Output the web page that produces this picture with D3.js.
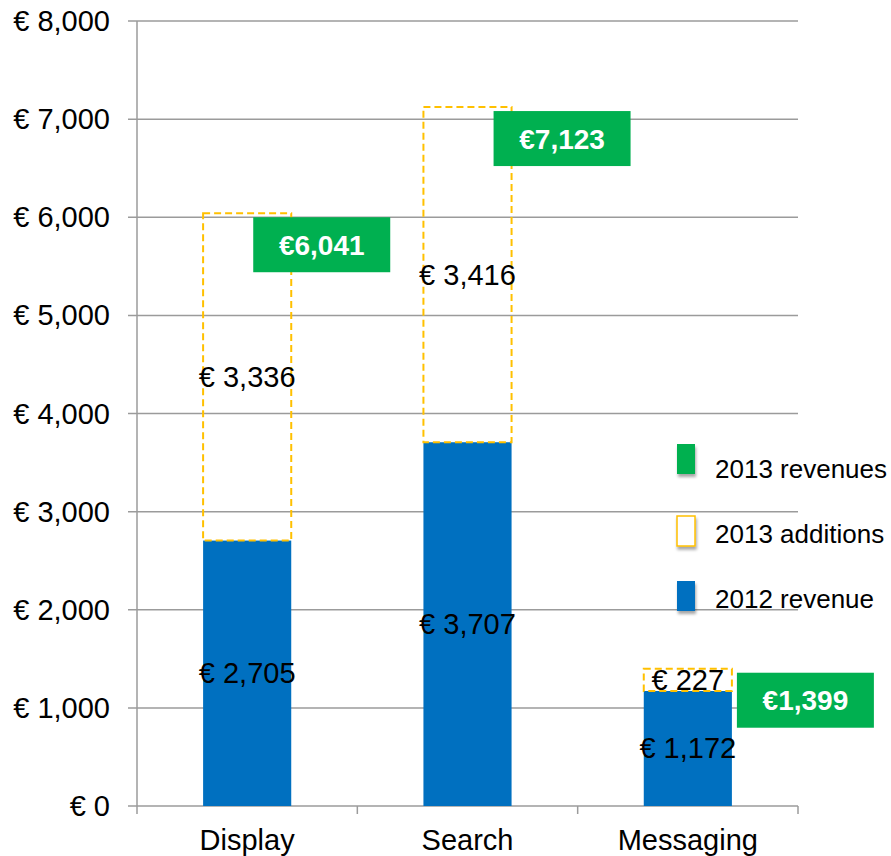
<!DOCTYPE html>
<html>
<head>
<meta charset="utf-8">
<title>Revenue 2012 / 2013</title>
<script src="https://cdnjs.cloudflare.com/ajax/libs/d3/7.8.5/d3.min.js"></script>
<style>
body { margin: 0; background: #fff; }
text { font-family: "Liberation Sans", Arial, sans-serif; }
</style>
</head>
<body>
<svg id="chart" width="891" height="856"></svg>
<script>
// data
var categories = ["Display", "Search", "Messaging"];
var revenue2012 = [2705, 3707, 1172];
var additions2013 = [3336, 3416, 227];
var revenue2013 = [6041, 7123, 1399];
var yTicks = [0, 1000, 2000, 3000, 4000, 5000, 6000, 7000, 8000];
var legendLabels = ["2013 revenues", "2013 additions", "2012 revenue"];

// hand placed offsets of the green total boxes (relative to bar right edge)
var totalBoxDx = [-38, -18, 5];

var svg = d3.select("#chart");
var plotLeft = 137, plotRight = 798, plotTop = 21, plotBottom = 806;

var x = d3.scaleBand().domain(categories).range([plotLeft, plotRight]).paddingInner(0.6).paddingOuter(0.3);
var y = d3.scaleLinear().domain([0, 8000]).range([plotBottom, plotTop]);
var euro = function(v) { return "€ " + d3.format(",")(v); };

// shadow for legend swatches
var defs = svg.append("defs");
defs.append("filter").attr("id", "shadow")
    .attr("x", "-50%").attr("y", "-50%").attr("width", "200%").attr("height", "200%")
    .append("feDropShadow")
    .attr("dx", 1).attr("dy", 3).attr("stdDeviation", 1.5)
    .attr("flood-color", "#000").attr("flood-opacity", 0.35);

// gridlines + y ticks
svg.append("g").selectAll("line").data(yTicks).enter().append("line")
    .attr("x1", plotLeft - 9).attr("x2", plotRight)
    .attr("y1", function(d) { return y(d); }).attr("y2", function(d) { return y(d); })
    .attr("stroke", "#9b9b9b").attr("stroke-width", 1.5);

svg.append("g").selectAll("text").data(yTicks).enter().append("text")
    .attr("x", 110).attr("y", function(d) { return y(d) + 10; })
    .attr("text-anchor", "end").attr("font-size", 29).attr("fill", "#000")
    .text(euro);

// y axis line
svg.append("line").attr("x1", plotLeft).attr("x2", plotLeft).attr("y1", plotTop).attr("y2", plotBottom + 8)
    .attr("stroke", "#9b9b9b").attr("stroke-width", 1.5);

// x ticks between categories
var xTicks = d3.range(categories.length + 1).map(function(i) { return plotLeft + i * (plotRight - plotLeft) / categories.length; });
svg.append("g").selectAll("line").data(xTicks.slice(1)).enter().append("line")
    .attr("x1", function(d) { return d; }).attr("x2", function(d) { return d; })
    .attr("y1", plotBottom).attr("y2", plotBottom + 8)
    .attr("stroke", "#9b9b9b").attr("stroke-width", 1.5);

// category labels
svg.append("g").selectAll("text").data(categories).enter().append("text")
    .attr("x", function(d) { return x(d) + x.bandwidth() / 2; })
    .attr("y", 850).attr("text-anchor", "middle").attr("font-size", 29)
    .text(function(d) { return d; });

// 2012 revenue bars
svg.append("g").selectAll("rect").data(categories).enter().append("rect")
    .attr("x", function(d) { return x(d); })
    .attr("width", x.bandwidth())
    .attr("y", function(d, i) { return y(revenue2012[i]); })
    .attr("height", function(d, i) { return plotBottom - y(revenue2012[i]); })
    .attr("fill", "#0070c0");

// 2013 additions (dashed outline)
svg.append("g").selectAll("rect").data(categories).enter().append("rect")
    .attr("x", function(d) { return x(d); })
    .attr("width", x.bandwidth())
    .attr("y", function(d, i) { return y(revenue2012[i] + additions2013[i]); })
    .attr("height", function(d, i) { return y(revenue2012[i]) - y(revenue2012[i] + additions2013[i]); })
    .attr("fill", "none").attr("stroke", "#ffc000").attr("stroke-width", 2)
    .attr("stroke-dasharray", "7,4");

// segment labels
categories.forEach(function(c, i) {
    var cx = x(c) + x.bandwidth() / 2;
    var base = revenue2012[i];
    svg.append("text").attr("x", cx).attr("y", (y(0) + y(base)) / 2 + 10)
        .attr("text-anchor", "middle").attr("font-size", 29).text(euro(base));
    svg.append("text").attr("x", cx).attr("y", (y(base) + y(base + additions2013[i])) / 2 + 10)
        .attr("text-anchor", "middle").attr("font-size", 29).text(euro(additions2013[i]));
});

// green total boxes
var boxW = 137, boxH = 55;
var boxes = svg.append("g").selectAll("g").data(categories).enter().append("g")
    .attr("transform", function(d, i) {
        return "translate(" + (x(d) + x.bandwidth() + totalBoxDx[i]) + "," + (y(revenue2013[i]) + 4) + ")";
    });
boxes.append("rect").attr("width", boxW).attr("height", boxH).attr("fill", "#00b050");
boxes.append("text").attr("x", boxW / 2).attr("y", boxH / 2 + 10)
    .attr("text-anchor", "middle").attr("font-size", 28).attr("font-weight", "bold").attr("fill", "#fff")
    .text(function(d, i) { return "€" + d3.format(",")(revenue2013[i]); });

// legend
var legendY = [444, 516, 581];
var legend = svg.append("g").selectAll("g").data(legendLabels).enter().append("g")
    .attr("transform", function(d, i) { return "translate(677," + legendY[i] + ")"; });
legend.append("rect").attr("width", 18).attr("height", 30)
    .attr("fill", function(d, i) { return i === 1 ? "#fff" : (i === 0 ? "#00b050" : "#0070c0"); })
    .attr("stroke", function(d, i) { return i === 1 ? "#ffc000" : "none"; })
    .attr("stroke-width", 1.5)
    .attr("filter", "url(#shadow)");
legend.append("text").attr("x", 38).attr("y", function(d, i) { return i === 0 ? 34 : 27; })
    .attr("font-size", 26).text(function(d) { return d; });
</script>
</body>
</html>
